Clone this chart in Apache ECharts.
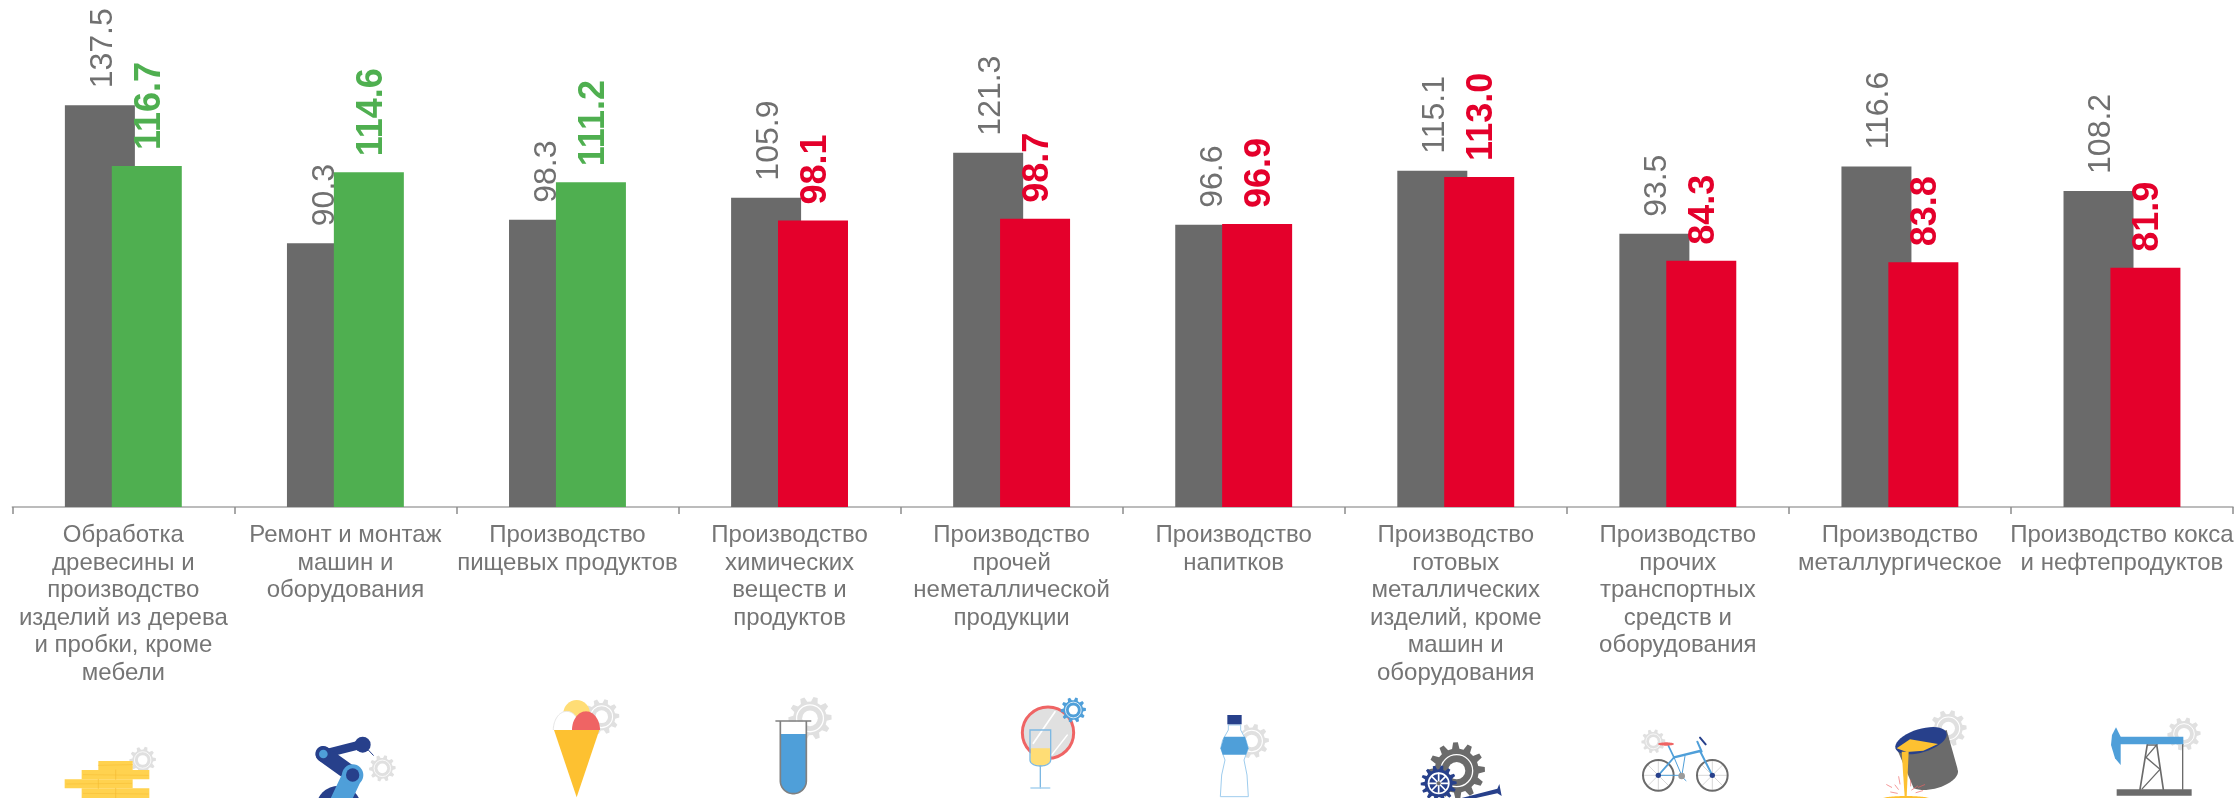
<!DOCTYPE html>
<html><head><meta charset="utf-8">
<style>html,body{margin:0;padding:0;background:#fff}#c{width:2237px;height:798px}</style>
<script src="https://cdn.jsdelivr.net/npm/echarts@6/dist/echarts.min.js"></script>
</head><body><div id="c"></div>
<script>
const categories = [
 "Обработка\nдревесины и\nпроизводство\nизделий из дерева\nи пробки, кроме\nмебели",
 "Ремонт и монтаж\nмашин и\nоборудования",
 "Производство\nпищевых продуктов",
 "Производство\nхимических\nвеществ и\nпродуктов",
 "Производство\nпрочей\nнеметаллической\nпродукции",
 "Производство\nнапитков",
 "Производство\nготовых\nметаллических\nизделий, кроме\nмашин и\nоборудования",
 "Производство\nпрочих\nтранспортных\nсредств и\nоборудования",
 "Производство\nметаллургическое",
 "Производство кокса\nи нефтепродуктов"
];
const previousValues = [137.5, 90.3, 98.3, 105.9, 121.3, 96.6, 115.1, 93.5, 116.6, 108.2];
const currentValues  = [116.7, 114.6, 111.2, 98.1, 98.7, 96.9, 113.0, 84.3, 83.8, 81.9];
const GREY='#6A6A6A', GREEN='#4FAF50', RED='#E4002B', TXT='#757575';
const currentColors = currentValues.map((v,i)=> i<3 ? GREEN : RED);

// ---- decorative icon helpers (coordinates in 3x crop pixels, scaled by group) ----
const GL='#E0E0E0', NAVY='#27408B', SKY='#4F9FD9', YEL='#FFDD75', ORG='#FDC131', COR='#EF6464', DK='#6B6B6B';
function gearPts(cx,cy,R,n){const r=R*0.78,p=[],s=Math.PI*2/n;
 for(let i=0;i<n;i++){const a=i*s;
  [[-.5,r],[-.3,R],[.1,R],[.3,r]].forEach(([d,q])=>{const t=a+d*s*0.8;p.push([cx+q*Math.cos(t),cy+q*Math.sin(t)])});}
 return p;}
function gear(cx,cy,R,col,n,z){n=n||10;return [
 {type:'polygon',shape:{points:gearPts(cx,cy,R,n)},style:{fill:col},z:z||1},
 {type:'circle',shape:{cx,cy,r:R*0.62},style:{fill:col,stroke:'#fff',lineWidth:Math.max(2,R*0.06)},z:z||1},
 {type:'circle',shape:{cx,cy,r:R*0.36},style:{fill:'#fff'},z:z||1}];}
function arc(cx,cy,rx,ry,a0,a1,rot){rot=rot||0;const p=[],n=40;
 for(let i=0;i<=n;i++){const a=(a0+(a1-a0)*i/n)*Math.PI/180,x=rx*Math.cos(a),y=ry*Math.sin(a),c=Math.cos(rot*Math.PI/180),s=Math.sin(rot*Math.PI/180);
  p.push([cx+x*c-y*s,cy+x*s+y*c]);}
 return p;}
function poly(points,fill,z){return {type:'polygon',shape:{points},style:{fill},z:z||2};}
function ln(x1,y1,x2,y2,stroke,w,z){return {type:'line',shape:{x1,y1,x2,y2},style:{stroke,lineWidth:w,lineCap:'round'},z:z||2};}
function circ(cx,cy,r,fill,z,stroke,w){return {type:'circle',shape:{cx,cy,r},style:{fill,stroke:stroke||null,lineWidth:w||0},z:z||2};}
function box(x,y,width,height,fill,z){return {type:'rect',shape:{x,y,width,height},style:{fill},z:z||2};}
function pl(points,stroke,w,z){return {type:'polyline',shape:{points},style:{stroke,lineWidth:w,fill:null},z:z||3};}
function icon(ox,oy,children){return {type:'group',x:ox,y:oy,scaleX:1/3,scaleY:1/3,silent:true,children};}

const WOOD='#FFD24F', WL='#F5BB33';
const wood = [...gear(278,240,40,GL,10),
 box(145,243,103,27,WOOD),box(95,270,203,28,WOOD),box(44,298,204,27,WOOD),box(95,325,203,32,WOOD),
 ln(197,270,197,298,WL,2,3),ln(145,298,145,325,WL,2,3),ln(197,325,197,357,WL,2,3),
 ln(145,256,248,254,WL,1.5,3),ln(100,284,295,286,WL,1.5,3),ln(50,312,245,310,WL,1.5,3),ln(100,340,295,342,WL,1.5,3)];
const robot = [...gear(997,265,40,GL,10),
 circ(866,385,68,NAVY),
 ln(955,210,970,226,NAVY,3),
 poly([[825,208],[925,182],[930,208],[835,232]],NAVY),
 circ(938,194,24,NAVY),
 ln(820,222,908,285,NAVY,48),
 ln(908,285,868,370,SKY,60,3),
 circ(908,285,32,SKY,3),
 circ(908,285,20,NAVY,4),
 circ(820,222,23,NAVY,3),circ(820,222,13,SKY,4)];
const cream = [...gear(245,110,53,GL,10),
 circ(170,100,40,YEL),
 poly(arc(140,150,40,56,180,360),'#fff',3),
 pl(arc(140,150,40,56,180,360),'#E6E6E6',3,3),
 poly(arc(198,150,42,56,180,360),COR,4),
 poly([[102,150],[238,150],[170,352]],ORG,5)];
const tube = [...gear(870,115,65,GL,10),
 poly([[782,125],[860,125],...arc(820,302,40,40,0,180)],'#fff',2),
 poly([[782,162],[860,162],...arc(820,302,40,40,0,180)],SKY,3),
 pl([[781,123],...arc(820,302,39,39,180,0),[859,123]],'#808080',5,4),
 ln(768,123,872,123,'#808080',5,4)];
const wine = [...gear(280,90,38,SKY,10,3),
 {type:'circle',shape:{cx:204,cy:158,r:77},style:{fill:GL,stroke:COR,lineWidth:9},z:2},
 ln(160,190,225,95,'#fff',5,3),ln(215,225,262,165,'#fff',4,3),
 poly([[152,205],[211,205],[211,240],...arc(181,240,30,18,0,180),[151,240]],YEL,4),
 pl([[151,150],[212,150],[212,240],...arc(181,240,31,18,0,180),[150,240],[150,150],[151,150]],'#7DB8E2',4,5),
 ln(181,258,181,324,'#7DB8E2',4,5),ln(153,324,209,324,'#A8D2F0',5,5)];
const bottlePts=[[745,135],[745,150],[728,180],[722,205],[735,240],[725,285],[721,350],[805,350],[801,285],[792,240],[805,205],[798,180],[782,150],[782,135]];
const bottle = [...gear(815,183,52,GL,10),
 poly(bottlePts,'#fff',2),
 pl([...bottlePts,bottlePts[0]],'#9FCDEE',3,3),
 poly([[732,170],[795,170],[805,205],[798,224],[728,224],[722,205]],SKY,4),
 box(742,105,43,28,NAVY,4)];
const gears = [
 {type:'polygon',shape:{points:gearPts(200,272,85,12)},style:{fill:DK},z:1},
 {type:'circle',shape:{cx:200,cy:272,r:48},style:{fill:DK,stroke:'#fff',lineWidth:4},z:1},
 circ(200,272,26,'#fff',2),
 poly([[215,354],[322,326],[328,312],[335,348],[322,340],[240,358]],NAVY,3),
 {type:'polygon',shape:{points:gearPts(146,310,54,14)},style:{fill:NAVY},z:4},
 circ(146,310,33,'#fff',5),circ(146,310,28,NAVY,5),
 ln(146,280,146,340,'#fff',5,6),ln(118,310,174,310,'#fff',5,6),ln(126,290,166,330,'#fff',5,6),ln(166,290,126,330,'#fff',5,6),
 circ(146,310,6,DK,7)];
const spokes=(c)=>[0,45,90,135].map(a=>{const t=a*Math.PI/180;return ln(c-44*Math.cos(t),286-44*Math.sin(t),c+44*Math.cos(t),286+44*Math.sin(t),'#CFCFCF',2.5,2)});
const bike = [...gear(790,184,36,GL,10),
 ...spokes(805),...spokes(967),
 {type:'circle',shape:{cx:805,cy:286,r:46},style:{fill:null,stroke:DK,lineWidth:6},z:3},
 {type:'circle',shape:{cx:967,cy:286,r:46},style:{fill:null,stroke:DK,lineWidth:6},z:3},
 ln(805,286,852,232,SKY,5,4),ln(852,232,930,213,SKY,7,4),ln(930,213,967,286,SKY,6,4),
 ln(805,286,875,286,SKY,3,4),ln(852,232,875,286,SKY,3,4),ln(885,228,875,290,SKY,3,4),ln(835,197,852,232,SKY,5,4),
 ln(922,185,935,215,SKY,6,4),ln(875,290,888,302,SKY,3,4),
 ln(930,173,947,193,NAVY,6,5),
 circ(805,286,8,NAVY,5),circ(967,286,8,NAVY,5),circ(875,288,10,'#9a9a9a',5),
 {type:'polygon',shape:{points:arc(828,192,24,5,0,360)},style:{fill:COR},z:5}];
const ladle = [...gear(385,145,55,GL,10),
 poly([[230,205],[380,150],[413,268],...arc(340,290,76,36,-10,150,-15)],DK,2),
 poly(arc(303,182,80,35,0,360,-17),NAVY,3),
 poly([[230,205],[270,178],[354,192],[310,212],[260,216]],ORG,4),
 poly([[245,215],[266,215],[260,350],[254,350]],ORG,5),
 poly(arc(258,356,70,8,180,360),ORG,5),
 ln(200,314,215,322,COR,2,5),ln(225,315,235,328,COR,2,5),ln(236,290,240,312,COR,2,5),ln(272,300,272,318,COR,2,5),ln(293,318,275,330,COR,2,5),ln(314,314,295,322,COR,2,5),ln(212,336,232,340,COR,2,5),ln(308,332,288,338,COR,2,5)];
const pump = [...gear(1092,162,50,GL,10),
 box(890,328,225,19,DK,3),
 ln(1088,193,1088,328,DK,4,2),
 ln(982,193,960,328,DK,5,2),ln(1010,193,1030,328,DK,5,2),
 pl([[982,195],[1010,195],[978,232],[1020,268],[965,328]],DK,4,2),
 box(895,170,195,23,SKY,4),
 poly([[888,142],[902,170],[902,255],[885,235],[873,195],[876,165]],SKY,4)];
const icons = [icon(50,680,wood),icon(50,680,robot),icon(520,680,cream),icon(520,680,tube),icon(980,680,wine),
 icon(980,680,bottle),icon(1390,680,gears),icon(1390,680,bike),icon(1820,680,ladle),icon(1820,680,pump)];

const chart = echarts.init(document.getElementById('c'),null,{renderer:'canvas'});
chart.setOption({
 animation:false,
 backgroundColor:'#fff',
 textStyle:{fontFamily:'"Liberation Sans",Arial,sans-serif'},
 grid:{left:12.3,right:4,top:10.4,bottom:291},
 xAxis:{type:'category',data:categories,
  axisLine:{lineStyle:{color:'#A6A6A6',width:1.5}},
  axisTick:{show:true,length:7,lineStyle:{color:'#8C8C8C',width:1.5}},
  axisLabel:{interval:0,color:TXT,fontSize:24,lineHeight:27.5,margin:15,fontFamily:'"Liberation Sans",Arial,sans-serif',hideOverlap:false}},
 yAxis:{type:'value',min:0,max:170,show:false,splitLine:{show:false}},
 graphic:icons,
 series:[
  {type:'bar',name:'previous',data:previousValues,barWidth:70,barGap:'-33%',itemStyle:{color:GREY},z:2,
   label:{show:true,position:'top',distance:17,offset:[0,3],rotate:90,align:'left',verticalAlign:'middle',color:'#707070',fontSize:32,
    fontFamily:'"Liberation Sans",Arial,sans-serif',formatter:p=>p.value.toFixed(1)}},
  {type:'bar',name:'current',barWidth:70,z:3,
   data:currentValues.map((v,i)=>({value:v,itemStyle:{color:currentColors[i]},
    label:{color:currentColors[i]}})),
   label:{show:true,position:'top',distance:16,offset:[0,3],rotate:90,align:'left',verticalAlign:'middle',fontSize:36,fontWeight:'bold',
    fontFamily:'"Liberation Sans",Arial,sans-serif',formatter:p=>p.value.toFixed(1)}}
 ]
});
</script></body></html>
